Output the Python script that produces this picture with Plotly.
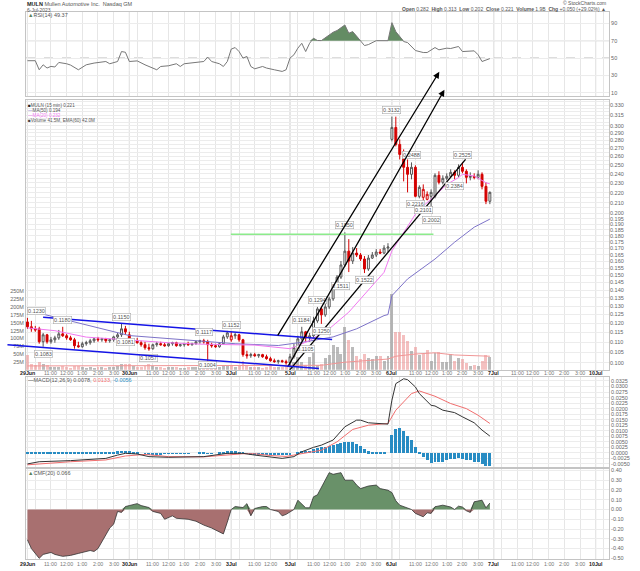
import math
import plotly.graph_objects as go

# ---------------- data ----------------
day_labels = ["29Jun", "30Jun", "3Jul", "5Jul", "6Jul", "7Jul", "10Jul"]
day_start_bar = [0, 26, 52, 67, 93, 119, 145]
day_bar_count = [26, 26, 15, 26, 26, 26, 26]
hour_labels = ["", "11:00", "12:00", "1:00", "2:00", "3:00"]
hour_offset = [2, 6, 10, 14, 18, 22]

open_ = [
    0.1208, 0.1181, 0.1170, 0.1170, 0.1102, 0.1138, 0.1102, 0.1112, 0.1122, 0.1143,
    0.1133, 0.1122, 0.1112, 0.1082, 0.1077, 0.1092, 0.1097, 0.1107, 0.1117, 0.1112,
    0.1117, 0.1107, 0.1112, 0.1127, 0.1138, 0.1170,
    0.1138, 0.1102, 0.1107, 0.1097, 0.1087, 0.1072, 0.1067, 0.1087, 0.1092, 0.1087,
    0.1082, 0.1092, 0.1097, 0.1082, 0.1087, 0.1092, 0.1087, 0.1092, 0.1102, 0.1107,
    0.1102, 0.1087, 0.1082, 0.1077, 0.1092, 0.1127,
    0.1112, 0.1133, 0.1138, 0.1112, 0.1038, 0.1033, 0.1038, 0.1033, 0.1038, 0.1028,
    0.1019, 0.1009, 0.1005, 0.1009, 0.1005,
    0.1000, 0.1028, 0.1072, 0.1117, 0.1154, 0.1122, 0.1133, 0.1214, 0.1283, 0.1248,
    0.1295, 0.1344, 0.1420, 0.1487, 0.1573, 0.1677, 0.1602, 0.1662, 0.1647, 0.1617,
    0.1544, 0.1624, 0.1647, 0.1670, 0.1662, 0.1701,
    0.2815, 0.2975, 0.2750, 0.2625, 0.2473, 0.2394, 0.2473, 0.2162, 0.2152, 0.2132,
    0.2162, 0.2162, 0.2383, 0.2307, 0.2350, 0.2372, 0.2416, 0.2383, 0.2473, 0.2428,
    0.2361, 0.2372, 0.2361, 0.2394, 0.2264, 0.2113,
]
high = [
    0.1231, 0.1214, 0.1186, 0.1181, 0.1148, 0.1143, 0.1127, 0.1133, 0.1164, 0.1181,
    0.1143, 0.1133, 0.1122, 0.1102, 0.1102, 0.1107, 0.1117, 0.1122, 0.1127, 0.1122,
    0.1122, 0.1117, 0.1133, 0.1148, 0.1197, 0.1186,
    0.1154, 0.1117, 0.1122, 0.1107, 0.1102, 0.1092, 0.1092, 0.1102, 0.1102, 0.1097,
    0.1097, 0.1102, 0.1102, 0.1092, 0.1097, 0.1102, 0.1097, 0.1107, 0.1112, 0.1117,
    0.1112, 0.1097, 0.1092, 0.1097, 0.1138, 0.1159,
    0.1154, 0.1148, 0.1143, 0.1117, 0.1057, 0.1047, 0.1047, 0.1042, 0.1042, 0.1038,
    0.1028, 0.1019, 0.1014, 0.1014, 0.1014,
    0.1042, 0.1092, 0.1133, 0.1181, 0.1159, 0.1148, 0.1237, 0.1295, 0.1295, 0.1313,
    0.1357, 0.1433, 0.1501, 0.1602, 0.1830, 0.1773, 0.1709, 0.1701, 0.1662, 0.1639,
    0.1647, 0.1670, 0.1693, 0.1693, 0.1724, 0.1740,
    0.3128, 0.3128, 0.2815, 0.2687, 0.2565, 0.2530, 0.2496, 0.2275, 0.2285, 0.2212,
    0.2233, 0.2405, 0.2428, 0.2383, 0.2405, 0.2450, 0.2439, 0.2507, 0.2530, 0.2450,
    0.2416, 0.2405, 0.2439, 0.2416, 0.2307, 0.2212,
]
low = [
    0.1170, 0.1154, 0.1154, 0.1092, 0.1077, 0.1092, 0.1092, 0.1097, 0.1112, 0.1127,
    0.1112, 0.1107, 0.1067, 0.1072, 0.1072, 0.1082, 0.1087, 0.1097, 0.1102, 0.1102,
    0.1097, 0.1097, 0.1102, 0.1117, 0.1127, 0.1138,
    0.1097, 0.1092, 0.1092, 0.1077, 0.1062, 0.1057, 0.1062, 0.1077, 0.1082, 0.1077,
    0.1077, 0.1082, 0.1077, 0.1077, 0.1077, 0.1082, 0.1082, 0.1087, 0.1092, 0.1092,
    0.1005, 0.1072, 0.1072, 0.1072, 0.1087, 0.1117,
    0.1102, 0.1117, 0.1102, 0.1028, 0.1019, 0.1023, 0.1028, 0.1023, 0.1023, 0.1014,
    0.1005, 0.1000, 0.0995, 0.1000, 0.0991,
    0.0982, 0.1019, 0.1057, 0.1107, 0.1102, 0.1102, 0.1122, 0.1203, 0.1197, 0.1237,
    0.1283, 0.1332, 0.1407, 0.1474, 0.1558, 0.1522, 0.1580, 0.1632, 0.1602, 0.1515,
    0.1530, 0.1617, 0.1632, 0.1654, 0.1654, 0.1670,
    0.2789, 0.2725, 0.2565, 0.2317, 0.2202, 0.2339, 0.2152, 0.2142, 0.2093, 0.2122,
    0.2000, 0.2142, 0.2285, 0.2285, 0.2328, 0.2361, 0.2339, 0.2361, 0.2405, 0.2296,
    0.2328, 0.2339, 0.2339, 0.2233, 0.2085, 0.2085,
]
close = [
    0.1181, 0.1170, 0.1164, 0.1102, 0.1138, 0.1102, 0.1112, 0.1122, 0.1143, 0.1133,
    0.1122, 0.1112, 0.1082, 0.1077, 0.1092, 0.1097, 0.1107, 0.1117, 0.1112, 0.1117,
    0.1107, 0.1112, 0.1127, 0.1138, 0.1170, 0.1154,
    0.1102, 0.1107, 0.1097, 0.1087, 0.1072, 0.1067, 0.1087, 0.1092, 0.1087, 0.1082,
    0.1092, 0.1097, 0.1082, 0.1087, 0.1092, 0.1087, 0.1092, 0.1102, 0.1107, 0.1102,
    0.1087, 0.1082, 0.1077, 0.1092, 0.1127, 0.1148,
    0.1133, 0.1138, 0.1112, 0.1038, 0.1033, 0.1038, 0.1033, 0.1038, 0.1028, 0.1019,
    0.1009, 0.1005, 0.1009, 0.1005, 0.1000,
    0.1028, 0.1072, 0.1117, 0.1154, 0.1122, 0.1133, 0.1214, 0.1283, 0.1248, 0.1295,
    0.1344, 0.1420, 0.1487, 0.1573, 0.1677, 0.1602, 0.1662, 0.1647, 0.1617, 0.1544,
    0.1624, 0.1647, 0.1670, 0.1662, 0.1701, 0.1709,
    0.2975, 0.2750, 0.2625, 0.2473, 0.2394, 0.2473, 0.2162, 0.2254, 0.2233, 0.2182,
    0.2202, 0.2383, 0.2307, 0.2350, 0.2372, 0.2416, 0.2383, 0.2473, 0.2428, 0.2361,
    0.2372, 0.2361, 0.2394, 0.2264, 0.2113, 0.2202,
]
volume_m = [
    47, 19, 15, 25, 20, 15, 10, 9, 10, 12, 9, 8, 13, 12, 9, 8, 10, 8, 9, 10, 8, 9, 10, 12, 20, 18,
    18, 12, 10, 9, 14, 20, 12, 10, 9, 8, 9, 10, 9, 8, 8, 9, 10, 9, 10, 12, 11, 22, 14, 10, 12, 14,
    12, 10, 14, 30, 12, 10, 9, 10, 8, 10, 12, 9, 10, 11, 14,
    20, 25, 40, 25, 15, 40, 57, 15, 19, 38, 47, 79, 72, 50, 136, 96, 72, 44, 35, 50, 38, 35, 44, 44, 28, 44,
    244, 120, 120, 111, 93, 61, 75, 47, 50, 63, 28, 54, 58, 25, 25, 50, 28, 38, 35, 21, 14, 16, 14, 28, 47, 41,
]
vol_ema_bar = [0, 26, 52, 67, 75, 81, 92, 94, 99, 104, 109, 118]
vol_ema_m = [12, 12, 12, 12, 14, 24, 34, 43, 50, 54, 47, 43]

ma20_bar = [0, 7, 15, 22, 28, 36, 44, 53, 58, 62, 67, 72, 77, 82, 87, 91, 93, 96, 99, 101, 104, 107, 110, 111, 114, 117, 118]
ma20 = [0.1175, 0.1160, 0.1126, 0.1115, 0.1109, 0.1097, 0.1090, 0.1087, 0.1085, 0.1077, 0.1067, 0.1108, 0.1170,
        0.1264, 0.1397, 0.1520, 0.1679, 0.1828, 0.1990, 0.2068, 0.2166, 0.2285, 0.2358, 0.2394, 0.2376, 0.2303, 0.2290]
ma50_bar = [0, 13, 26, 53, 64, 71, 78, 84, 91, 92, 93, 97, 104, 109, 114, 118]
ma50 = [0.1275, 0.1203, 0.1134, 0.1092, 0.1083, 0.1102, 0.1127, 0.1170, 0.1244, 0.1250, 0.1364, 0.1474, 0.1617,
        0.1748, 0.1874, 0.1945]

rsi_bar = [0, 2, 3, 4, 5, 6, 7, 8, 10, 11, 13, 15, 17, 20, 21, 23, 24, 25, 26, 28, 30, 31, 33, 34, 36, 38, 39, 40,
           43, 45, 46, 47, 49, 50, 51, 52, 53, 54, 55, 56, 57, 58, 60, 61, 63, 65, 66, 67, 68, 69, 70, 71, 72, 73,
           74, 75, 78, 79, 81, 82, 83, 85, 86, 87, 89, 92, 93, 94, 96, 97, 99, 101, 102, 104, 105, 107, 108, 110,
           111, 114, 115, 116, 117, 118]
rsi = [47, 47, 36.6, 42.3, 38.6, 40.5, 39.8, 45, 43.5, 42, 36.6, 42.3, 44.3, 46.1, 43.5, 46.1, 57.5, 56.7, 46.1,
       46.8, 42.3, 40.4, 36.6, 40.4, 41.2, 43.5, 40.4, 43.5, 45, 46.1, 51.1, 46.1, 43.5, 40.4, 46.1, 60.3, 62.1,
       57.5, 50, 51.9, 40.4, 37.7, 40.4, 38.6, 36.6, 34.7, 36.6, 50, 53.8, 61.4, 67, 57.5, 67, 72.8, 70.2, 70.1,
       79.7, 81.6, 88, 78.6, 80.4, 70.1, 64.4, 65.5, 70, 70, 90.7, 80.4, 69, 67.8, 58.7, 56.4, 56.4, 62.1, 59.5,
       61.4, 61, 63.3, 57.5, 58.3, 53.8, 46.1, 47.5, 49.4]

macd_bar = [0, 3, 11, 20, 23, 25, 28, 31, 36, 45, 51, 55, 58, 61, 65, 68, 70, 73, 75, 78, 81, 84, 85, 87, 91, 92,
            93, 94, 96, 97, 99, 100, 103, 104, 106, 109, 111, 114, 116, 118]
macd = [-0.0050, -0.0040, -0.0035, -0.0025, -0.0010, -0.0002, -0.0005, -0.0017, -0.0020, -0.0017, -0.0002,
        -0.0002, -0.0010, -0.0017, -0.0025, -0.0017, 0.0005, 0.0025, 0.0035, 0.0058, 0.0118, 0.0148, 0.0148,
        0.0136, 0.0133, 0.0130, 0.0238, 0.0313, 0.0335, 0.0331, 0.0298, 0.0268, 0.0215, 0.0212, 0.0193, 0.0182,
        0.0163, 0.0136, 0.0103, 0.0076]
signal_bar = [0, 11, 20, 25, 30, 36, 45, 51, 55, 58, 62, 66, 70, 75, 79, 83, 87, 92, 94, 98, 100, 104, 108, 112,
              115, 118]
signal = [-0.0054, -0.0040, -0.0032, -0.0014, -0.0007, -0.0017, -0.0018, -0.0010, -0.0004, -0.0004, -0.0012,
          -0.0016, -0.0005, 0.0012, 0.0050, 0.0106, 0.0125, 0.0133, 0.0193, 0.0268, 0.0280, 0.0256, 0.0223,
          0.0200, 0.0170, 0.0133]
macd_hist = [
    0.0004, 0.0006, 0.0006, 0.0005, 0.0006, 0.0005, 0.0004, 0.0005, 0.0006, 0.0005,
    0.0005, 0.0006, 0.0004, 0.0003, 0.0005, 0.0006, 0.0006, 0.0007, 0.0006, 0.0007, 0.0007, 0.0006, 0.0007, 0.0008,
    0.0012, 0.0011, 0.0009, 0.0006, 0.0003, 0.0000,
    -0.0003, -0.0005, -0.0005, -0.0004, -0.0004, -0.0003, -0.0003, -0.0002, -0.0002, -0.0001,
    -0.0001, -0.0001, 0.0000, 0.0000, 0.0001, 0.0001, -0.0001, -0.0001, 0.0000, 0.0002,
    0.0005, 0.0008, 0.0009, 0.0008, 0.0006, 0.0002, -0.0003,
    -0.0006, -0.0007, -0.0007, -0.0008, -0.0008, -0.0008, -0.0009, -0.0008, -0.0008, -0.0007,
    -0.0004, 0.0000, 0.0006, 0.0010, 0.0010, 0.0012, 0.0017, 0.0022,
    0.0027, 0.0030, 0.0033, 0.0037, 0.0040, 0.0045, 0.0052, 0.0050, 0.0050, 0.0042, 0.0033, 0.0018,
    0.0008, 0.0006, 0.0005, 0.0003, 0.0001, 0.0000,
    0.0083, 0.0108, 0.0116, 0.0100, 0.0078, 0.0060, 0.0027, 0.0006, -0.0015, -0.0033, -0.0045, -0.0038,
    -0.0038, -0.0038, -0.0033, -0.0027, -0.0027, -0.0023, -0.0027, -0.0033, -0.0033, -0.0038, -0.0042,
    -0.0050, -0.0057, -0.0056,
]

cmf_bar = [0, 1, 3, 4, 6, 7, 9, 11, 13, 16, 17, 18, 20, 21, 22, 23, 24, 25, 26, 28, 29, 31, 32, 34, 35, 37, 38, 41,
           43, 45, 47, 49, 50, 51, 52, 53, 55, 56, 57, 58, 60, 61, 62, 64, 65, 66, 68, 69, 71, 72, 73, 74, 77, 78,
           80, 81, 83, 84, 85, 87, 89, 90, 92, 93, 94, 95, 97, 98, 99, 101, 102, 103, 104, 105, 106, 108, 109, 110,
           111, 112, 113, 114, 115, 116, 117, 118]
cmf = [-0.31, -0.40, -0.50, -0.46, -0.44, -0.46, -0.48, -0.47, -0.45, -0.42, -0.43, -0.40, -0.26, -0.19, -0.15,
       -0.02, -0.03, 0.03, 0.04, 0.06, 0.04, 0.02, -0.02, -0.04, -0.10, -0.065, -0.09, -0.10, -0.12, -0.16, -0.19,
       -0.23, -0.25, -0.13, 0.0, 0.03, 0.02, 0.06, -0.065, 0.01, 0.03, 0.03, 0.0, -0.02, -0.065, -0.05, 0.0, 0.095,
       0.017, 0.017, 0.13, 0.15, 0.377, 0.36, 0.377, 0.30, 0.30, 0.25, 0.214, 0.24, 0.25, 0.214, 0.197, 0.173,
       0.089, 0.044, 0.02, 0.0, -0.04, -0.075, -0.034, -0.04, 0.028, 0.035, 0.044, 0.025, 0.0, 0.034, 0.025,
       -0.013, -0.03, 0.079, 0.089, 0.095, 0.017, 0.066]

# price-axis ticks: grid at every value, a label where the text is not empty
price_tick_vals = [0.100, 0.105, 0.110, 0.115, 0.120, 0.125, 0.130, 0.135, 0.140, 0.145,
                   0.150, 0.155, 0.160, 0.165, 0.170, 0.175, 0.180, 0.185, 0.190, 0.195,
                   0.200, 0.205, 0.210, 0.215, 0.220, 0.225, 0.230, 0.235, 0.240, 0.245,
                   0.250, 0.255, 0.260, 0.265, 0.270, 0.275, 0.280, 0.285, 0.290, 0.295,
                   0.300, 0.305, 0.310, 0.315, 0.320, 0.325, 0.330, 0.335]
price_tick_text = ["0.100", "0.105", "0.110", "0.115", "0.120", "0.125", "0.130", "0.135", "0.140", "0.145",
                   "0.150", "0.155", "0.160", "0.165", "0.170", "0.175", "0.180", "0.185", "0.190", "0.195",
                   "0.200", "", "0.210", "", "0.220", "", "0.230", "", "0.240", "",
                   "0.250", "", "0.260", "", "0.270", "", "0.280", "", "0.290", "",
                   "0.300", "", "", "0.315", "", "", "0.330", ""]
volume_ticks = [25, 50, 75, 100, 125, 150, 175, 200, 225, 250]
rsi_ticks = [10, 30, 50, 70, 90]
macd_ticks = ["-0.0050", "-0.0025", "0.0000", "0.0025", "0.0050", "0.0075", "0.0100", "0.0125", "0.0150",
              "0.0175", "0.0200", "0.0225", "0.0250", "0.0275", "0.0300", "0.0325"]
cmf_ticks = ["-0.50", "-0.40", "-0.30", "-0.20", "-0.10", "0.00", "0.10", "0.20", "0.30", "0.40"]

# price labels on highs / lows
label_bar = [0, 9, 24, 45, 52, 70, 74, 81, 93, 98, 111, 4, 25, 31, 46, 71, 75, 80, 86, 99, 101, 103, 109]
label_side = ["h"] * 11 + ["l"] * 12
label_text = ["0.1230", "0.1180", "0.1150", "0.1117", "0.1152", "0.1184", "0.1294", "0.1850", "0.3132",
              "0.2488", "0.2525", "0.1083", "0.1081", "0.1057", "0.1004", "0.1105", "0.1250", "0.1511",
              "0.1522", "0.2216", "0.2101", "0.2002", "0.2384"]

# hand-drawn trend lines (bar index, price)
arrow_tail_bar = [63.75, 66.3]
arrow_tail_price = [0.1131, 0.0977]
arrow_head_bar = [105.1, 106.4]
arrow_head_price = [0.385, 0.3543]
support_bar = [65.3, 111.8]
support_price = [0.0933, 0.2565]
blue_upper_bar = [4.0, 77.75]
blue_upper_price = [0.1235, 0.1113]
blue_lower_bar = [-5.1, 74.5]
blue_lower_price = [0.1087, 0.0973]
green_bar = [51.9, 103.6]
green_price = [0.1814, 0.1814]

# ---------------- layout geometry ----------------
W, H = 640, 571
PL, PR, PT, PB = 19, 617, 12, 561
x_range = [-0.37, 148.4]
dom_rsi = [0.8461, 1.0]
dom_price = [0.3461, 0.8397]
dom_macd = [0.1676, 0.3333]
dom_cmf = [0.0, 0.1639]
rsi_range = [6.3, 102.9]
price_range = [-1.01404, -0.47066]
vol_range = [0, 863]
macd_range = [-0.00653, 0.03444]
cmf_range = [-0.507, 0.411]
price_xlabel_py = 374.5
cmf_xlabel_py = 566.5


def xp(px):
    return (px - PL) / (PR - PL)


def yp(py):
    return (PB - py) / (PB - PT)


FONT = "Liberation Sans, Arial, sans-serif"
n = len(close)
bars = list(range(n))

# tick positions
tick_vals, tick_text, day_vals = [], [], []
for lab, start, cnt in zip(day_labels, day_start_bar, day_bar_count):
    tick_vals.append(start)
    tick_text.append("<b><span style='color:#222'>%s</span></b>" % lab)
    day_vals.append(start)
    for hl, off in zip(hour_labels, hour_offset):
        if off < cnt - 1 and start + off <= x_range[1]:
            tick_vals.append(start + off)
            tick_text.append(hl)

fig = go.Figure()

# ---------- RSI panel ----------
fig.add_trace(go.Scatter(x=rsi_bar, y=[70] * len(rsi_bar), mode="lines", line=dict(width=0),
                         hoverinfo="skip", xaxis="x", yaxis="y", showlegend=False))
fig.add_trace(go.Scatter(x=rsi_bar, y=[max(v, 70) for v in rsi], mode="lines", line=dict(width=0),
                         fill="tonexty", fillcolor="rgb(100,140,100)", xaxis="x", yaxis="y", showlegend=False))
fig.add_trace(go.Scatter(x=rsi_bar, y=rsi, mode="lines", line=dict(color="#777", width=1),
                         xaxis="x", yaxis="y", showlegend=False))

# ---------- price panel ----------
vol_colors = []
for i in range(n):
    prev = close[i - 1] if i > 0 else open_[i]
    vol_colors.append("rgba(150,150,150,0.65)" if close[i] >= prev else "rgba(235,140,140,0.55)")
fig.add_trace(go.Bar(x=bars, y=volume_m, width=0.75, marker=dict(color=vol_colors, line=dict(width=0)),
                     xaxis="x2", yaxis="y2", showlegend=False))
fig.add_trace(go.Scatter(x=vol_ema_bar, y=vol_ema_m, mode="lines", line=dict(color="rgb(240,150,150)", width=1),
                         xaxis="x2", yaxis="y2", showlegend=False))

fig.add_trace(go.Scatter(x=green_bar, y=green_price, mode="lines", line=dict(color="rgb(140,235,140)", width=1.5),
                         xaxis="x2", yaxis="y5", showlegend=False))
fig.add_trace(go.Scatter(x=ma50_bar, y=ma50, mode="lines", line=dict(color="rgb(125,115,200)", width=1),
                         xaxis="x2", yaxis="y5", showlegend=False))
fig.add_trace(go.Scatter(x=ma20_bar, y=ma20, mode="lines", line=dict(color="rgb(240,120,240)", width=1),
                         xaxis="x2", yaxis="y5", showlegend=False))

up_idx, dn_idx = [], []
for i in range(n):
    prev = close[i - 1] if i > 0 else open_[i] + 1
    (dn_idx if close[i] < prev else up_idx).append(i)
for idxs, col in ((up_idx, "#555"), (dn_idx, "#d40000")):
    fig.add_trace(go.Candlestick(
        x=idxs, open=[open_[i] for i in idxs], high=[high[i] for i in idxs],
        low=[low[i] for i in idxs], close=[close[i] for i in idxs],
        increasing=dict(line=dict(color=col, width=1), fillcolor="white"),
        decreasing=dict(line=dict(color=col, width=1), fillcolor=col),
        whiskerwidth=0, xaxis="x2", yaxis="y5", showlegend=False))

fig.add_trace(go.Scatter(x=blue_upper_bar, y=blue_upper_price, mode="lines",
                         line=dict(color="rgb(20,20,230)", width=1.5), xaxis="x2", yaxis="y5", showlegend=False))
fig.add_trace(go.Scatter(x=support_bar, y=support_price, mode="lines", line=dict(color="black", width=1.3),
                         xaxis="x2", yaxis="y5", showlegend=False))

# ---------- MACD panel ----------
fig.add_trace(go.Bar(x=bars, y=macd_hist, width=0.75, marker=dict(color="rgb(40,140,195)", line=dict(width=0)),
                     xaxis="x3", yaxis="y3", showlegend=False))
fig.add_trace(go.Scatter(x=signal_bar, y=signal, mode="lines", line=dict(color="rgb(240,110,110)", width=1),
                         xaxis="x3", yaxis="y3", showlegend=False))
fig.add_trace(go.Scatter(x=macd_bar, y=macd, mode="lines", line=dict(color="#333", width=1),
                         xaxis="x3", yaxis="y3", showlegend=False))

# ---------- CMF panel ----------
fig.add_trace(go.Scatter(x=cmf_bar, y=[max(v, 0) for v in cmf], mode="lines", line=dict(width=0),
                         fill="tozeroy", fillcolor="rgb(105,145,105)", xaxis="x4", yaxis="y4", showlegend=False))
fig.add_trace(go.Scatter(x=cmf_bar, y=[min(v, 0) for v in cmf], mode="lines", line=dict(width=0),
                         fill="tozeroy", fillcolor="rgb(168,112,112)", xaxis="x4", yaxis="y4", showlegend=False))
fig.add_trace(go.Scatter(x=cmf_bar, y=cmf, mode="lines", line=dict(color="#333", width=0.8),
                         xaxis="x4", yaxis="y4", showlegend=False))

# ---------- axes ----------
xcommon = dict(range=x_range, tickmode="array", tickvals=tick_vals, ticktext=tick_text,
               showgrid=True, gridcolor="#e6e6e6", gridwidth=1, zeroline=False, showticklabels=False,
               showline=True, linecolor="#c4c4c4", linewidth=1, mirror=True, ticks="",
               rangeslider=dict(visible=False))
ycommon = dict(showgrid=True, gridcolor="#ececec", zeroline=False, showline=True, linecolor="#c4c4c4",
               mirror=True, ticks="", side="right", tickfont=dict(size=5.5, color="#666", family=FONT))

fig.update_layout(
    xaxis=dict(xcommon, anchor="y"),
    yaxis=dict(ycommon, domain=dom_rsi, range=rsi_range, tickvals=rsi_ticks, anchor="x"),
    xaxis2=dict(xcommon, anchor="y2"),
    yaxis2=dict(ycommon, domain=dom_price, range=vol_range, side="left", showgrid=False,
                tickvals=volume_ticks, ticktext=["%dM" % v for v in volume_ticks], anchor="x2"),
    yaxis5=dict(ycommon, overlaying="y2", type="log", range=price_range, anchor="x2",
                tickvals=price_tick_vals, ticktext=price_tick_text, showline=False),
    xaxis3=dict(xcommon, anchor="y3"),
    yaxis3=dict(ycommon, domain=dom_macd, range=macd_range, anchor="x3",
                tickvals=[float(t) for t in macd_ticks], ticktext=macd_ticks),
    xaxis4=dict(xcommon, anchor="y4"),
    yaxis4=dict(ycommon, domain=dom_cmf, range=cmf_range, anchor="x4",
                tickvals=[float(t) for t in cmf_ticks], ticktext=cmf_ticks),
    width=W, height=H, margin=dict(l=PL, r=W - PR, t=PT, b=H - PB),
    paper_bgcolor="white", plot_bgcolor="white", bargap=0, showlegend=False,
    font=dict(family=FONT, size=7, color="#555"),
)

# ---------- shapes ----------
shapes = []
for d in day_vals:
    if d <= x_range[1]:
        for xr, yr, rng in (("x", "y", rsi_range), ("x2", "y2", vol_range),
                            ("x3", "y3", macd_range), ("x4", "y4", cmf_range)):
            shapes.append(dict(type="line", xref=xr, yref=yr, x0=d, x1=d, y0=rng[0], y1=rng[1],
                               line=dict(color="#cfcfcf", width=1), layer="below"))
for lvl, dash in ((70, "solid"), (30, "solid"), (50, "dash")):
    shapes.append(dict(type="line", xref="x", yref="y", x0=x_range[0], x1=x_range[1], y0=lvl, y1=lvl,
                       line=dict(color="#aaa", width=1, dash=dash), layer="below"))
shapes.append(dict(type="line", xref="x4", yref="y4", x0=x_range[0], x1=x_range[1], y0=0, y1=0,
                   line=dict(color="#aaa", width=1.2), layer="below"))
fig.update_layout(shapes=shapes)

# ---------- annotations ----------
ann = []
# time-axis labels under the price panel and under the CMF panel
for tv, tt in zip(tick_vals, tick_text):
    if tt and tv <= x_range[1] - 1:
        for py in (price_xlabel_py, cmf_xlabel_py):
            ann.append(dict(x=tv, y=yp(py), xref="x2", yref="paper", text=tt, showarrow=False,
                            xanchor="center", yanchor="middle", borderpad=0,
                            font=dict(size=5.3, color="#777", family=FONT)))
for b, side, txt_ in zip(label_bar, label_side, label_text):
    yv = high[b] if side == "h" else low[b]
    shift = 7 if side == "h" else -7
    if side == "l" and yv < 0.1010:
        shift = -3  # label sitting just above the time axis
    ann.append(dict(x=b, y=math.log10(yv), xref="x2", yref="y5", text=txt_, showarrow=False,
                    xanchor="left" if b == 0 else "center",
                    yshift=shift, font=dict(size=5.5, color="#555", family=FONT),
                    bgcolor="white", bordercolor="#aaa", borderwidth=0.6, borderpad=0.5))
for tb, tp, hb, hp in zip(arrow_tail_bar, arrow_tail_price, arrow_head_bar, arrow_head_price):
    ann.append(dict(x=hb, y=math.log10(hp), ax=tb, ay=math.log10(tp), xref="x2", yref="y5",
                    axref="x2", ayref="y5", text=" ", font=dict(size=1), borderpad=0,
                    showarrow=True, arrowhead=2, arrowsize=1,
                    arrowwidth=1.3, arrowcolor="black", standoff=0, startstandoff=0))
ann.append(dict(x=blue_lower_bar[0], y=math.log10(blue_lower_price[0]), ax=blue_lower_bar[1],
                ay=math.log10(blue_lower_price[1]), xref="x2", yref="y5", axref="x2", ayref="y5",
                text=" ", font=dict(size=1), borderpad=0, showarrow=True, arrowhead=0, arrowwidth=1.5,
                arrowcolor="rgb(20,20,230)", standoff=0, startstandoff=0))


def txt(px, py, s, size=6, anchor="left", color="#555"):
    ann.append(dict(x=xp(px), y=yp(py), xref="paper", yref="paper", text=s, showarrow=False,
                    xanchor=anchor, yanchor="middle", borderpad=0,
                    font=dict(size=size, color=color, family=FONT)))


txt(19, 3.8, "<b><span style='color:#222'>MULN</span></b> Mullen Automotive Inc.  Nasdaq GM", 5.5)
txt(19, 9.6, "6-Jul-2023", 5)
txt(20, 15.2, "<span style='color:rgb(90,130,90)'>&#9650;</span>RSI(14) 49.37", 5.5)
txt(615, 3, "&#169; StockCharts.com", 5, "right")
txt(615, 9.3, "<b>Open</b> 0.282  <b>High</b> 0.313  <b>Low</b> 0.202  <b>Close</b> 0.221  "
              "<b>Volume</b> 1.9B  <b>Chg</b> +0.050 (+29.02%) &#9650;", 5, "right")
txt(20, 106.3, "<span style='color:#222'>&#9632;</span>MULN (15 min) 0.221", 4.6)
txt(20, 111.3, "<span style='color:rgb(125,115,200)'>&#8212;</span>MA(50) 0.194", 4.6)
txt(20, 116.3, "<span style='color:rgb(240,120,240)'>&#8212;MA(20) 0.232</span>", 4.6)
txt(20, 121.3, "<span style='color:#444'>&#9632;</span>Volume 41.5M, EMA(60) 42.0M", 4.6)
txt(20, 381.5, "<span style='color:#333'>&#8212;</span>MACD(12,26,9) 0.0078, "
               "<span style='color:rgb(240,110,110)'>0.0133</span>, "
               "<span style='color:rgb(40,140,195)'>-0.0056</span>", 5.5)
txt(20, 475, "<span style='color:rgb(90,130,90)'>&#9650;</span>CMF(20) 0.066", 5.5)
fig.update_layout(annotations=ann)

fig.write_html("out.html", config={"displayModeBar": False},
               post_script="document.body.style.margin='0px';")
